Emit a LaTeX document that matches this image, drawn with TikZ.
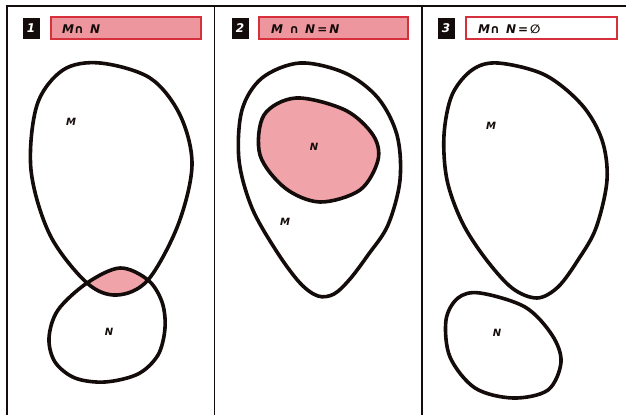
\documentclass[tikz,border=0pt]{standalone}
\usepackage{fontspec}
\setmainfont{DejaVu Sans}
\definecolor{lenspink}{RGB}{240,163,168}
\definecolor{hdrpink}{RGB}{238,150,158}
\definecolor{hdrred}{RGB}{214,48,60}
\definecolor{ink}{RGB}{20,12,10}
\tikzset{
  blob/.style={draw=ink, line width=3.6pt, line join=round},
  panelline/.style={draw=ink, line width=1.4pt},
  numbox/.style={fill=ink, draw=none, minimum width=17pt, minimum height=21pt, inner sep=0pt,
     text=white, font=\fontsize{12}{12}\selectfont\bfseries\itshape},
  hdrbox/.style={draw=hdrred, line width=1.3pt, minimum height=22pt, inner sep=0pt},
  hdrtext/.style={anchor=west, inner sep=0pt, text=ink, font=\fontsize{12}{12}\selectfont\bfseries\itshape},
  setlabel/.style={inner sep=0pt, text=ink, font=\fontsize{10}{10}\selectfont\bfseries\itshape},
}
\begin{document}
\begin{tikzpicture}[x=1pt,y=-1pt]
\useasboundingbox (0,0) rectangle (626,415);
\fill[white] (0,0) rectangle (626,415);
% frame
\draw[draw=ink, line width=2.4pt] (6,6) -- (626,6);
\draw[panelline] (7,6) -- (7,415);
\draw[panelline] (214.5,6) -- (214.5,415);
\draw[panelline] (422,6) -- (422,415);

% headers
\node[numbox] (n1) at (31,28.5) {1};
\node[hdrbox, fill=hdrpink, minimum width=150pt] (h1) at (126,28) {};
\node[hdrtext] (t1) at (62,29) {M∩\, N};
\node[numbox] (n2) at (240,28.5) {2};
\node[hdrbox, fill=hdrpink, minimum width=149pt] (h2) at (333.5,28) {};
\node[hdrtext] (t2) at (271,29) {M\, ∩\, N\,=\,N};
\node[numbox] (n3) at (446,28.5) {3};
\node[hdrbox, fill=white, minimum width=151pt] (h3) at (541.5,28) {};
\node[hdrtext] (t3) at (478,29) {M∩\, N\,=\,∅};

% panel 1
\def\MoneP{plot[smooth cycle, tension=0.55] coordinates {(100,63) (150,78) (180,115) (192,165) (178,225) (148,280) (117,295) (87,283) (50,235) (31,170) (37,105) (63,70)}}
\def\NoneP{plot[smooth cycle, tension=0.55] coordinates {(120,268) (148,280) (162,302) (165,328) (158,355) (138,374) (105,382) (75,378) (55,362) (49,338) (58,310) (87,283)}}
\begin{scope}
  \clip \MoneP;
  \fill[lenspink] \NoneP;
\end{scope}
\draw[blob] \MoneP;
\draw[blob] \NoneP;
\node[setlabel] (m1) at (71,122) {M};
\node[setlabel] (l1) at (109,332) {N};

% panel 2
\draw[blob] plot[smooth cycle, tension=0.55] coordinates {(300,63) (345,73) (378,98) (397,135) (400,180) (388,225) (368,255) (350,279) (334,294) (318,296) (300,283) (277,252) (252,208) (239,160) (242,110) (262,78)};
\draw[blob, fill=lenspink] plot[smooth cycle, tension=0.55] coordinates {(296,98) (345,110) (373,135) (378,160) (360,190) (320,202) (285,188) (260,155) (264,115)};
\node[setlabel] (l2) at (314,147) {N};
\node[setlabel] (m2) at (285,222) {M};

% panel 3
\draw[blob] plot[smooth cycle, tension=0.55] coordinates {(498,63) (545,75) (582,105) (602,140) (607,180) (596,228) (578,260) (558,287) (537,298) (512,288) (485,258) (462,222) (447,180) (444,135) (452,95) (472,70)};
\draw[blob] plot[smooth cycle, tension=0.55] coordinates {(480,293) (525,307) (552,335) (561,362) (548,390) (513,398) (475,388) (450,357) (446,320) (458,298)};
\node[setlabel] (m3) at (491,126) {M};
\node[setlabel] (l3) at (497,333) {N};
\end{tikzpicture}
\end{document}
